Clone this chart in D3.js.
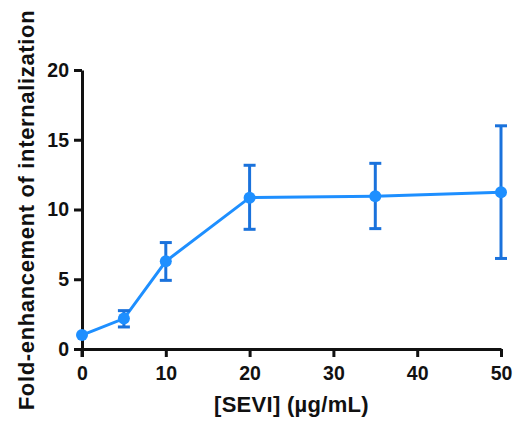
<!DOCTYPE html>
<html>
<head>
<meta charset="utf-8">
<script src="https://cdn.jsdelivr.net/npm/d3@7"></script>
<style>
  body { margin: 0; background: #fff; }
  text { font-family: "Liberation Sans", Arial, sans-serif; font-weight: bold; fill: #111; }
</style>
</head>
<body>
<div id="container"></div>
<script>
// data
var conc = [0, 5, 10, 20, 35, 50];
var fold = [1.0, 2.18, 6.29, 10.85, 10.95, 11.24];
var errHi = [1.0, 2.75, 7.63, 13.17, 13.31, 16.0];
var errLo = [1.0, 1.58, 4.92, 8.58, 8.63, 6.49];
var xTicks = [0, 10, 20, 30, 40, 50];
var yTicks = [0, 5, 10, 15, 20];

var width = 519, height = 425;

var svg = d3.select("#container").append("svg")
    .attr("width", width)
    .attr("height", height);

var x = d3.scaleLinear().domain([0, 50]).range([82, 501]);
var y = d3.scaleLinear().domain([0, 20]).range([349, 70]);

var axisColor = "#111";

// x axis
var gx = svg.append("g")
    .attr("transform", "translate(0," + y(0) + ")")
    .call(d3.axisBottom(x).tickValues(xTicks).tickSize(8).tickPadding(6).tickSizeOuter(0));
// y axis
var gy = svg.append("g")
    .attr("transform", "translate(" + x(0) + ",0)")
    .call(d3.axisLeft(y).tickValues(yTicks).tickSize(8).tickPadding(5).tickSizeOuter(0));

[gx, gy].forEach(function(g) {
    g.select(".domain").attr("stroke", axisColor).attr("stroke-width", 3);
    g.selectAll(".tick line").attr("stroke", axisColor).attr("stroke-width", 3);
    g.selectAll(".tick text")
        .style("font-size", "19.5px")
        .style("font-family", "Liberation Sans, Arial, sans-serif")
        .style("font-weight", "bold")
        .attr("fill", "#111");
});
// y axis continues below the x axis like the tick
gy.append("line")
    .attr("x1", 0).attr("x2", 0)
    .attr("y1", y(0)).attr("y2", y(0) + 8)
    .attr("stroke", axisColor).attr("stroke-width", 3);
gx.selectAll(".tick text").attr("dy", "0.85em");

// axis titles
svg.append("text")
    .attr("x", (x(0) + x(50)) / 2)
    .attr("y", 412)
    .attr("text-anchor", "middle")
    .style("font-size", "22px")
    .style("letter-spacing", "0.3px")
    .text("[SEVI] (\u00b5g/mL)");

svg.append("text")
    .attr("transform", "translate(34,210) rotate(-90)")
    .attr("text-anchor", "middle")
    .style("font-size", "22px")
    .style("letter-spacing", "0.65px")
    .text("Fold-enhancement of internalization");

var pts = conc.map(function(c, i) {
    return {x: c, y: fold[i], hi: errHi[i], lo: errLo[i]};
});

// line
svg.append("path")
    .datum(pts)
    .attr("fill", "none")
    .attr("stroke", "#1e8fff")
    .attr("stroke-width", 3)
    .attr("d", d3.line().x(function(d) { return x(d.x); }).y(function(d) { return y(d.y); }));

// error bars
var errColor = "#1a72dc";
var eb = svg.selectAll("g.err")
    .data(pts.filter(function(d) { return d.hi - d.lo > 0.01; }))
    .enter().append("g")
    .attr("class", "err")
    .attr("stroke", errColor)
    .attr("stroke-width", 3);
eb.append("line")
    .attr("x1", function(d) { return x(d.x); })
    .attr("x2", function(d) { return x(d.x); })
    .attr("y1", function(d) { return y(d.hi); })
    .attr("y2", function(d) { return y(d.lo); });
eb.append("line")
    .attr("x1", function(d) { return x(d.x) - 6; })
    .attr("x2", function(d) { return x(d.x) + 6; })
    .attr("y1", function(d) { return y(d.hi); })
    .attr("y2", function(d) { return y(d.hi); });
eb.append("line")
    .attr("x1", function(d) { return x(d.x) - 6; })
    .attr("x2", function(d) { return x(d.x) + 6; })
    .attr("y1", function(d) { return y(d.lo); })
    .attr("y2", function(d) { return y(d.lo); });

// points
svg.selectAll("circle.pt")
    .data(pts)
    .enter().append("circle")
    .attr("class", "pt")
    .attr("cx", function(d) { return x(d.x); })
    .attr("cy", function(d) { return y(d.y); })
    .attr("r", 6)
    .attr("fill", "#1e8fff");
</script>
</body>
</html>
